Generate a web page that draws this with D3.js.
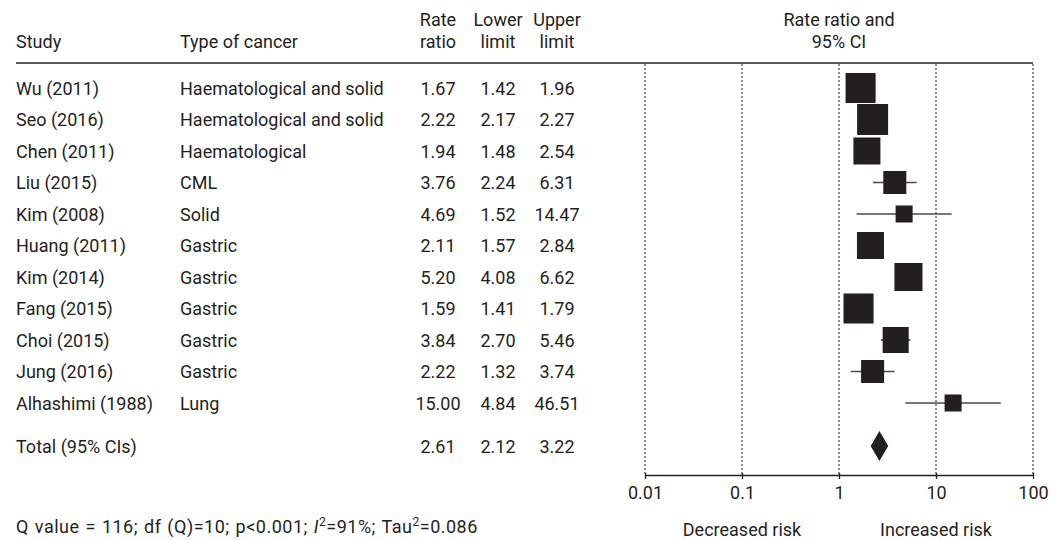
<!DOCTYPE html>
<html>
<head>
<meta charset="utf-8">
<script src="https://cdn.jsdelivr.net/npm/d3@7"></script>
<style>
body { margin: 0; background: #fff; }
text { font-family: Roboto, sans-serif; fill: #231f20; font-size: 18px; }
</style>
</head>
<body>
<svg id="chart" width="1063" height="540"></svg>
<script>
var studies = ['Wu (2011)', 'Seo (2016)', 'Chen (2011)', 'Liu (2015)', 'Kim (2008)', 'Huang (2011)',
               'Kim (2014)', 'Fang (2015)', 'Choi (2015)', 'Jung (2016)', 'Alhashimi (1988)']
var cancerTypes = ['Haematological and solid', 'Haematological and solid', 'Haematological', 'CML', 'Solid',
                   'Gastric', 'Gastric', 'Gastric', 'Gastric', 'Gastric', 'Lung']
var rateRatios = [1.67, 2.22, 1.94, 3.76, 4.69, 2.11, 5.20, 1.59, 3.84, 2.22, 15.00]
var lowerLimits = [1.42, 2.17, 1.48, 2.24, 1.52, 1.57, 4.08, 1.41, 2.70, 1.32, 4.84]
var upperLimits = [1.96, 2.27, 2.54, 6.31, 14.47, 2.84, 6.62, 1.79, 5.46, 3.74, 46.51]
// relative weights
var weights = [10.9, 11.6, 8.8, 6.4, 3.5, 8.8, 9.5, 10.9, 8.2, 6.4, 3.5]

var totalLabel = 'Total (95% CIs)'
var totalValues = [2.61, 2.12, 3.22]

var axisTicks = [0.01, 0.1, 1, 10, 100]
var headTop = ['Rate', 'Lower', 'Upper']
var headBottom = ['ratio', 'limit', 'limit']

var svg = d3.select('#chart')
var fmt = d3.format('.2f')
var ink = '#231f20'

var x = d3.scaleLog().domain([0.01, 100]).range([645, 1033])
var y = d3.scalePoint().domain(d3.range(studies.length)).range([88, 403])
var yTotal = 446
var size = d3.scaleSqrt().domain([0, d3.max(weights)]).range([0, 31])
var numCols = [438, 498, 557]

// header
svg.append('text').attr('x', 16).attr('y', 48).text('Study')
svg.append('text').attr('x', 180).attr('y', 48).text('Type of cancer')
svg.selectAll('.h1').data(headTop).enter().append('text')
  .attr('x', (d, i) => numCols[i]).attr('y', 26).attr('text-anchor', 'middle').text(d => d)
svg.selectAll('.h2').data(headBottom).enter().append('text')
  .attr('x', (d, i) => numCols[i]).attr('y', 48).attr('text-anchor', 'middle').text(d => d)
svg.append('text').attr('x', x(1)).attr('y', 26).attr('text-anchor', 'middle').text('Rate ratio and')
svg.append('text').attr('x', x(1)).attr('y', 48).attr('text-anchor', 'middle').text('95% CI')

svg.append('line')
  .attr('x1', 16).attr('x2', x(100)).attr('y1', 63).attr('y2', 63)
  .attr('stroke', ink).attr('stroke-width', 1.3)

// dotted grid
svg.selectAll('.grid').data(axisTicks).enter().append('line')
  .attr('x1', d => x(d)).attr('x2', d => x(d))
  .attr('y1', 64).attr('y2', 475)
  .attr('stroke', ink).attr('stroke-width', 1).attr('stroke-dasharray', '2,2')

// table rows
var rows = svg.selectAll('.row').data(studies).enter().append('g')
  .attr('transform', (d, i) => 'translate(0,' + y(i) + ')')
rows.append('text').attr('x', 16).attr('y', 6.5).text(d => d)
rows.append('text').attr('x', 180).attr('y', 6.5).text((d, i) => cancerTypes[i])
rows.append('text').attr('x', numCols[0]).attr('y', 6.5).attr('text-anchor', 'middle').text((d, i) => fmt(rateRatios[i]))
rows.append('text').attr('x', numCols[1]).attr('y', 6.5).attr('text-anchor', 'middle').text((d, i) => fmt(lowerLimits[i]))
rows.append('text').attr('x', numCols[2]).attr('y', 6.5).attr('text-anchor', 'middle').text((d, i) => fmt(upperLimits[i]))

rows.append('line')
  .attr('x1', (d, i) => x(lowerLimits[i])).attr('x2', (d, i) => x(upperLimits[i]))
  .attr('y1', 0).attr('y2', 0)
  .attr('stroke', '#4a4a4a').attr('stroke-width', 1.6)
rows.append('rect')
  .attr('x', (d, i) => x(rateRatios[i]) - size(weights[i]) / 2)
  .attr('y', (d, i) => -size(weights[i]) / 2)
  .attr('width', (d, i) => size(weights[i]))
  .attr('height', (d, i) => size(weights[i]))
  .attr('fill', ink)

// total row
var tot = svg.append('g').attr('transform', 'translate(0,' + yTotal + ')')
tot.append('text').attr('x', 16).attr('y', 6.5).text(totalLabel)
tot.selectAll('.tv').data(totalValues).enter().append('text')
  .attr('x', (d, i) => numCols[i]).attr('y', 6.5).attr('text-anchor', 'middle').text(d => fmt(d))
tot.append('path')
  .attr('d', 'M' + x(totalValues[1]) + ',0L' + x(totalValues[0]) + ',-15L' + x(totalValues[2]) + ',0L' + x(totalValues[0]) + ',15Z')
  .attr('fill', ink)

// axis
var axis = svg.append('g').attr('transform', 'translate(0,475)')
  .call(d3.axisBottom(x).tickValues(axisTicks).tickFormat(d => String(d)).tickSizeInner(4).tickSizeOuter(0).tickPadding(7))
axis.select('.domain').attr('stroke', ink).attr('stroke-width', 1.3)
axis.selectAll('.tick line').attr('stroke', ink).attr('stroke-width', 1.3).attr('y1', -2)
axis.selectAll('.tick text').attr('font-size', null).attr('font-family', null).attr('fill', ink)

svg.append('text').attr('x', x(0.1)).attr('y', 536).attr('text-anchor', 'middle').text('Decreased risk')
svg.append('text').attr('x', x(10)).attr('y', 536).attr('text-anchor', 'middle').text('Increased risk')

// heterogeneity note
var note = svg.append('text').attr('x', 16).attr('y', 533)
  .style('letter-spacing', '0.5px').style('word-spacing', '1px')
note.append('tspan').text('Q value = 116; df (Q)=10; p<0.001; ')
note.append('tspan').attr('font-style', 'italic').text('I')
note.append('tspan').style('font-size', '12px').attr('dy', -7).text('2')
note.append('tspan').attr('dy', 7).text('=91%; Tau')
note.append('tspan').style('font-size', '12px').attr('dy', -7).text('2')
note.append('tspan').attr('dy', 7).text('=0.086')
</script>
</body>
</html>
